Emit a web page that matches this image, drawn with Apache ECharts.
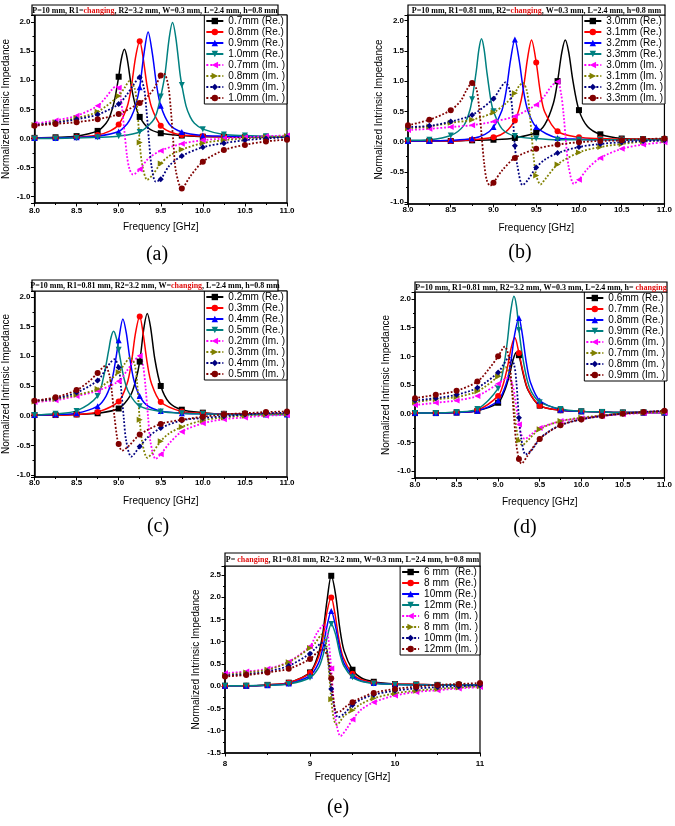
<!DOCTYPE html>
<html>
<head>
<meta charset="utf-8">
<script src="https://cdn.jsdelivr.net/npm/echarts@6/dist/echarts.min.js"></script>
<style>
  html, body { margin: 0; padding: 0; background: #fff; }
  #chart { width: 675px; height: 826px; }
</style>
</head>
<body>
<div id="chart"></div>
<script>
// ---- data: [frequency GHz, normalized impedance] ----

// (a) R1 changing
const aNames = ['0.7mm', '0.8mm', '0.9mm', '1.0mm'];
const aRe = [
  [[8,0.01],[8.25,0.02],[8.5,0.04],[8.75,0.13],[8.85,0.26],[8.9,0.40],[8.95,0.65],[9,1.06],[9.03,1.35],[9.067,1.53],[9.1,1.38],[9.15,0.90],[9.2,0.56],[9.25,0.37],[9.35,0.18],[9.5,0.09],[9.75,0.05],[10,0.03],[10.25,0.03],[10.5,0.02],[10.75,0.02],[11,0.02]],
  [[8,0.01],[8.25,0.01],[8.5,0.02],[8.75,0.06],[8.9,0.13],[9,0.24],[9.1,0.54],[9.15,0.88],[9.2,1.39],[9.25,1.67],[9.29,1.39],[9.34,0.88],[9.39,0.54],[9.5,0.22],[9.6,0.12],[9.75,0.06],[10,0.04],[10.25,0.03],[10.5,0.03],[10.75,0.03],[11,0.03]],
  [[8,0.01],[8.25,0.01],[8.5,0.02],[8.75,0.04],[9,0.12],[9.1,0.25],[9.15,0.37],[9.2,0.56],[9.25,0.88],[9.3,1.45],[9.35,1.83],[9.4,1.46],[9.45,0.92],[9.5,0.56],[9.6,0.25],[9.75,0.11],[10,0.05],[10.25,0.04],[10.5,0.03],[10.75,0.03],[11,0.03]],
  [[8,0.0],[8.25,0.0],[8.5,0.01],[8.75,0.02],[9,0.04],[9.25,0.11],[9.4,0.29],[9.45,0.43],[9.5,0.72],[9.55,1.10],[9.6,1.72],[9.64,1.99],[9.68,1.72],[9.73,1.10],[9.75,0.92],[9.8,0.56],[9.85,0.37],[9.9,0.26],[10,0.16],[10.25,0.07],[10.5,0.05],[10.75,0.04],[11,0.03]]
];
const aIm = [
  [[8,0.25],[8.25,0.31],[8.5,0.39],[8.75,0.56],[8.85,0.71],[8.92,0.84],[8.97,0.90],[9,0.87],[9.03,0.65],[9.067,0.14],[9.1,-0.31],[9.13,-0.53],[9.17,-0.62],[9.25,-0.53],[9.35,-0.35],[9.5,-0.21],[9.75,-0.09],[10,-0.03],[10.25,0.0],[10.5,0.02],[10.75,0.04],[11,0.05]],
  [[8,0.23],[8.25,0.28],[8.5,0.35],[8.75,0.46],[9,0.73],[9.07,0.87],[9.13,0.99],[9.19,0.86],[9.22,0.54],[9.25,-0.07],[9.28,-0.45],[9.34,-0.71],[9.4,-0.63],[9.5,-0.43],[9.6,-0.30],[9.75,-0.19],[10,-0.08],[10.25,-0.03],[10.5,0.0],[10.75,0.02],[11,0.04]],
  [[8,0.23],[8.25,0.27],[8.5,0.33],[8.75,0.41],[9,0.59],[9.1,0.76],[9.18,0.93],[9.25,1.05],[9.3,0.87],[9.33,0.49],[9.36,-0.03],[9.39,-0.47],[9.44,-0.74],[9.5,-0.70],[9.6,-0.47],[9.75,-0.30],[10,-0.15],[10.25,-0.08],[10.5,-0.03],[10.75,0.0],[11,0.02]],
  [[8,0.22],[8.25,0.25],[8.5,0.28],[8.75,0.33],[9,0.42],[9.25,0.61],[9.35,0.73],[9.43,0.88],[9.5,1.08],[9.54,1.11],[9.59,0.90],[9.62,0.49],[9.65,-0.07],[9.68,-0.56],[9.75,-0.86],[9.85,-0.65],[10,-0.40],[10.25,-0.20],[10.5,-0.11],[10.75,-0.05],[11,-0.02]]
];

// (b) R2 changing
const bNames = ['3.0mm', '3.1mm', '3.2mm', '3.3mm'];
const bRe = [
  [[8,0.01],[8.25,0.01],[8.5,0.01],[8.75,0.02],[9,0.03],[9.25,0.06],[9.5,0.15],[9.6,0.28],[9.7,0.63],[9.75,1.0],[9.8,1.48],[9.84,1.68],[9.88,1.48],[9.93,1.0],[10,0.52],[10.1,0.25],[10.25,0.12],[10.5,0.05],[10.75,0.04],[11,0.04]],
  [[8,0.01],[8.25,0.01],[8.5,0.01],[8.75,0.03],[9,0.07],[9.15,0.17],[9.25,0.35],[9.3,0.54],[9.35,0.88],[9.4,1.39],[9.445,1.68],[9.5,1.31],[9.55,0.80],[9.6,0.49],[9.75,0.17],[10,0.07],[10.25,0.05],[10.5,0.04],[10.75,0.04],[11,0.04]],
  [[8,0.01],[8.25,0.01],[8.5,0.02],[8.75,0.05],[8.9,0.12],[9,0.24],[9.1,0.52],[9.15,0.85],[9.2,1.35],[9.25,1.69],[9.3,1.35],[9.35,0.85],[9.4,0.52],[9.5,0.24],[9.75,0.06],[10,0.04],[10.25,0.03],[10.5,0.03],[10.75,0.03],[11,0.03]],
  [[8,0.02],[8.25,0.03],[8.5,0.10],[8.65,0.26],[8.72,0.50],[8.75,0.70],[8.8,1.18],[8.83,1.53],[8.86,1.70],[8.89,1.53],[8.92,1.18],[8.97,0.68],[9,0.50],[9.1,0.21],[9.25,0.09],[9.5,0.05],[9.75,0.03],[10,0.03],[10.25,0.03],[10.5,0.03],[10.75,0.03],[11,0.04]]
];
const bIm = [
  [[8,0.19],[8.25,0.21],[8.5,0.24],[8.75,0.27],[9,0.33],[9.25,0.42],[9.5,0.61],[9.6,0.76],[9.68,0.92],[9.75,0.99],[9.79,0.80],[9.82,0.45],[9.85,-0.04],[9.88,-0.42],[9.94,-0.70],[10,-0.63],[10.1,-0.45],[10.25,-0.27],[10.5,-0.12],[10.75,-0.05],[11,-0.01]],
  [[8,0.22],[8.25,0.25],[8.5,0.31],[8.75,0.36],[9,0.48],[9.15,0.64],[9.25,0.80],[9.3,0.92],[9.345,0.97],[9.39,0.84],[9.42,0.52],[9.445,0.13],[9.47,-0.26],[9.5,-0.56],[9.55,-0.71],[9.6,-0.63],[9.75,-0.38],[10,-0.18],[10.25,-0.09],[10.5,-0.04],[10.75,0.0],[11,0.02]],
  [[8,0.24],[8.25,0.26],[8.5,0.33],[8.75,0.44],[9,0.71],[9.07,0.86],[9.14,0.98],[9.19,0.85],[9.22,0.53],[9.25,-0.07],[9.28,-0.40],[9.34,-0.72],[9.4,-0.64],[9.5,-0.43],[9.6,-0.30],[9.75,-0.19],[10,-0.09],[10.25,-0.04],[10.5,-0.01],[10.75,0.01],[11,0.02]],
  [[8,0.27],[8.25,0.36],[8.5,0.52],[8.62,0.68],[8.68,0.84],[8.75,0.97],[8.8,0.87],[8.83,0.59],[8.86,0.12],[8.89,-0.35],[8.92,-0.63],[8.96,-0.73],[9,-0.68],[9.1,-0.48],[9.25,-0.27],[9.5,-0.12],[9.75,-0.05],[10,-0.01],[10.25,0.01],[10.5,0.02],[10.75,0.04],[11,0.05]]
];

// (c) W changing
const cNames = ['0.2mm', '0.3mm', '0.4mm', '0.5mm'];
const cRe = [
  [[8,0.01],[8.25,0.01],[8.5,0.02],[8.75,0.04],[9,0.12],[9.14,0.34],[9.2,0.58],[9.25,0.91],[9.3,1.48],[9.34,1.72],[9.38,1.48],[9.43,0.95],[9.5,0.50],[9.6,0.22],[9.75,0.10],[10,0.05],[10.25,0.03],[10.5,0.03],[10.75,0.03],[11,0.03]],
  [[8,0.01],[8.25,0.01],[8.5,0.02],[8.75,0.06],[9,0.24],[9.1,0.54],[9.15,0.88],[9.2,1.39],[9.25,1.67],[9.29,1.39],[9.34,0.88],[9.39,0.54],[9.5,0.23],[9.75,0.07],[10,0.04],[10.25,0.03],[10.5,0.03],[10.75,0.03],[11,0.03]],
  [[8,0.01],[8.25,0.02],[8.5,0.04],[8.75,0.16],[8.85,0.33],[8.92,0.60],[8.97,0.99],[9,1.27],[9.05,1.63],[9.09,1.40],[9.13,0.99],[9.18,0.60],[9.25,0.33],[9.35,0.16],[9.5,0.08],[9.75,0.04],[10,0.03],[10.25,0.02],[10.5,0.02],[10.75,0.02],[11,0.02]],
  [[8,0.01],[8.25,0.03],[8.5,0.08],[8.75,0.33],[8.82,0.65],[8.88,1.09],[8.91,1.32],[8.94,1.42],[8.97,1.32],[9,1.11],[9.06,0.65],[9.12,0.39],[9.25,0.16],[9.5,0.07],[9.75,0.04],[10,0.03],[10.25,0.02],[10.5,0.02],[10.75,0.02],[11,0.02]]
];
const cIm = [
  [[8,0.23],[8.25,0.26],[8.5,0.33],[8.75,0.42],[9,0.58],[9.1,0.76],[9.17,0.90],[9.25,1.01],[9.29,0.84],[9.32,0.47],[9.35,-0.03],[9.38,-0.46],[9.44,-0.73],[9.5,-0.65],[9.6,-0.47],[9.75,-0.27],[10,-0.13],[10.25,-0.06],[10.5,-0.03],[10.75,0.0],[11,0.01]],
  [[8,0.24],[8.25,0.28],[8.5,0.35],[8.75,0.45],[9,0.73],[9.07,0.87],[9.14,0.98],[9.19,0.86],[9.22,0.54],[9.25,-0.07],[9.28,-0.45],[9.34,-0.71],[9.4,-0.63],[9.5,-0.43],[9.6,-0.30],[9.75,-0.19],[10,-0.08],[10.25,-0.03],[10.5,0.0],[10.75,0.02],[11,0.03]],
  [[8,0.25],[8.25,0.29],[8.5,0.39],[8.75,0.59],[8.85,0.79],[8.9,0.89],[8.95,0.95],[9,0.81],[9.03,0.44],[9.06,-0.03],[9.09,-0.43],[9.15,-0.69],[9.25,-0.52],[9.35,-0.36],[9.5,-0.21],[9.75,-0.08],[10,-0.04],[10.25,-0.01],[10.5,0.02],[10.75,0.04],[11,0.05]],
  [[8,0.25],[8.25,0.31],[8.5,0.43],[8.65,0.58],[8.75,0.72],[8.84,0.84],[8.89,0.68],[8.92,0.39],[8.95,-0.02],[8.98,-0.36],[9,-0.48],[9.04,-0.59],[9.12,-0.51],[9.25,-0.32],[9.5,-0.14],[9.75,-0.07],[10,-0.02],[10.25,0.02],[10.5,0.04],[10.75,0.06],[11,0.07]]
];

// (d) h changing
const dNames = ['0.6mm', '0.7mm', '0.8mm', '0.9mm'];
const dRe = [
  [[8,0.01],[8.25,0.01],[8.5,0.02],[8.75,0.05],[9,0.19],[9.08,0.41],[9.13,0.64],[9.18,0.94],[9.22,1.07],[9.25,1.02],[9.3,0.70],[9.36,0.41],[9.5,0.14],[9.75,0.06],[10,0.04],[10.25,0.03],[10.5,0.02],[10.75,0.02],[11,0.02]],
  [[8,0.01],[8.25,0.01],[8.5,0.02],[8.75,0.06],[9,0.31],[9.06,0.51],[9.11,0.80],[9.16,1.17],[9.2,1.33],[9.25,1.06],[9.3,0.73],[9.36,0.42],[9.5,0.14],[9.75,0.06],[10,0.04],[10.25,0.03],[10.5,0.02],[10.75,0.02],[11,0.02]],
  [[8,0.01],[8.25,0.01],[8.5,0.02],[8.75,0.05],[9,0.23],[9.1,0.54],[9.15,0.88],[9.2,1.39],[9.25,1.67],[9.29,1.39],[9.34,0.88],[9.39,0.54],[9.5,0.23],[9.75,0.07],[10,0.04],[10.25,0.03],[10.5,0.02],[10.75,0.02],[11,0.02]],
  [[8,0.01],[8.25,0.01],[8.5,0.03],[8.75,0.08],[9,0.44],[9.06,0.76],[9.11,1.25],[9.15,1.77],[9.19,2.05],[9.22,1.88],[9.25,1.46],[9.29,1.03],[9.35,0.58],[9.4,0.38],[9.5,0.20],[9.75,0.08],[10,0.04],[10.25,0.03],[10.5,0.02],[10.75,0.02],[11,0.02]]
];
const dIm = [
  [[8,0.15],[8.25,0.19],[8.5,0.23],[8.75,0.31],[9,0.52],[9.06,0.59],[9.12,0.63],[9.17,0.52],[9.2,0.30],[9.23,0.0],[9.25,-0.19],[9.28,-0.37],[9.32,-0.44],[9.4,-0.36],[9.5,-0.25],[9.75,-0.13],[10,-0.08],[10.25,-0.04],[10.5,-0.01],[10.75,0.01],[11,0.02]],
  [[8,0.20],[8.25,0.25],[8.5,0.29],[8.75,0.39],[9,0.65],[9.09,0.81],[9.14,0.67],[9.17,0.39],[9.2,0.0],[9.22,-0.26],[9.25,-0.47],[9.29,-0.55],[9.36,-0.46],[9.5,-0.27],[9.75,-0.13],[10,-0.07],[10.25,-0.03],[10.5,0.0],[10.75,0.02],[11,0.03]],
  [[8,0.23],[8.25,0.27],[8.5,0.33],[8.75,0.45],[9,0.72],[9.07,0.87],[9.13,0.98],[9.19,0.86],[9.22,0.54],[9.25,-0.07],[9.28,-0.45],[9.33,-0.71],[9.4,-0.64],[9.5,-0.44],[9.6,-0.32],[9.75,-0.20],[10,-0.10],[10.25,-0.04],[10.5,0.0],[10.75,0.03],[11,0.05]],
  [[8,0.27],[8.25,0.33],[8.5,0.40],[8.75,0.56],[8.9,0.80],[9,1.0],[9.08,1.17],[9.13,0.97],[9.16,0.54],[9.19,-0.05],[9.22,-0.55],[9.25,-0.79],[9.28,-0.87],[9.35,-0.74],[9.5,-0.44],[9.75,-0.20],[10,-0.10],[10.25,-0.04],[10.5,0.0],[10.75,0.03],[11,0.05]]
];

// (e) P changing
const eNames = ['6 mm ', '8 mm ', '10mm', '12mm'];
const eRe = [
  [[8,0.01],[8.25,0.01],[8.5,0.03],[8.75,0.08],[9,0.31],[9.1,0.73],[9.15,1.18],[9.2,1.92],[9.25,2.48],[9.3,2.07],[9.35,1.31],[9.4,0.80],[9.5,0.37],[9.6,0.19],[9.75,0.10],[10,0.05],[10.25,0.04],[10.5,0.03],[10.75,0.03],[11,0.03]],
  [[8,0.01],[8.25,0.01],[8.5,0.03],[8.75,0.08],[9,0.30],[9.1,0.65],[9.15,1.06],[9.2,1.67],[9.25,1.99],[9.29,1.67],[9.34,1.06],[9.39,0.65],[9.5,0.28],[9.6,0.15],[9.75,0.08],[10,0.05],[10.25,0.04],[10.5,0.03],[10.75,0.03],[11,0.03]],
  [[8,0.01],[8.25,0.01],[8.5,0.02],[8.75,0.06],[9,0.24],[9.1,0.52],[9.15,0.85],[9.2,1.35],[9.25,1.69],[9.3,1.35],[9.35,0.85],[9.4,0.52],[9.5,0.24],[9.6,0.12],[9.75,0.07],[10,0.04],[10.25,0.03],[10.5,0.03],[10.75,0.03],[11,0.03]],
  [[8,0.01],[8.25,0.01],[8.5,0.02],[8.75,0.05],[9,0.19],[9.1,0.41],[9.15,0.67],[9.2,1.08],[9.25,1.40],[9.3,1.17],[9.35,0.74],[9.4,0.45],[9.5,0.20],[9.6,0.11],[9.75,0.06],[10,0.04],[10.25,0.03],[10.5,0.03],[10.75,0.03],[11,0.03]]
];
const eIm = [
  [[8,0.29],[8.25,0.33],[8.5,0.39],[8.75,0.55],[9,0.90],[9.08,1.19],[9.16,1.37],[9.21,1.13],[9.24,0.61],[9.25,0.40],[9.27,-0.12],[9.3,-0.73],[9.36,-1.12],[9.43,-0.96],[9.5,-0.75],[9.6,-0.53],[9.75,-0.36],[10,-0.21],[10.25,-0.13],[10.5,-0.09],[10.75,-0.05],[11,-0.02]],
  [[8,0.25],[8.25,0.31],[8.5,0.37],[8.75,0.54],[9,0.86],[9.06,0.97],[9.145,1.17],[9.19,0.95],[9.215,0.51],[9.25,-0.29],[9.28,-0.74],[9.315,-0.87],[9.4,-0.67],[9.5,-0.54],[9.6,-0.40],[9.75,-0.27],[10,-0.16],[10.25,-0.10],[10.5,-0.06],[10.75,-0.03],[11,0.0]],
  [[8,0.24],[8.25,0.27],[8.5,0.33],[8.75,0.46],[9,0.73],[9.07,0.86],[9.14,0.97],[9.19,0.85],[9.22,0.53],[9.25,-0.06],[9.28,-0.40],[9.33,-0.70],[9.4,-0.62],[9.5,-0.42],[9.6,-0.30],[9.75,-0.19],[10,-0.10],[10.25,-0.05],[10.5,-0.02],[10.75,0.0],[11,0.02]],
  [[8,0.22],[8.25,0.25],[8.5,0.31],[8.75,0.39],[9,0.61],[9.08,0.75],[9.15,0.83],[9.2,0.70],[9.23,0.48],[9.25,0.18],[9.27,-0.20],[9.31,-0.58],[9.36,-0.56],[9.42,-0.46],[9.5,-0.36],[9.6,-0.26],[9.75,-0.15],[10,-0.06],[10.25,-0.01],[10.5,0.03],[10.75,0.05],[11,0.07]]
];

// title strings: [before, red word, after]
const aTitle = ['P=10 mm, R1=', 'changing', ', R2=3.2 mm, W=0.3 mm, L=2.4 mm, h=0.8 mm'];
const bTitle = ['P=10 mm, R1=0.81 mm, R2=', 'changing', ', W=0.3 mm, L=2.4 mm, h=0.8 mm'];
const cTitle = ['P=10 mm, R1=0.81 mm, R2=3.2 mm, W=', 'changing', ', L=2.4 mm, h=0.8 mm'];
const dTitle = ['P=10 mm, R1=0.81 mm, R2=3.2 mm, W=0.3 mm, L=2.4 mm, h= ', 'changing', ''];
const eTitle = ['P= ', 'changing', ', R1=0.81 mm, R2=3.2 mm, W=0.3 mm, L=2.4 mm, h=0.8 mm'];

// ---- styling / layout ----
const colors = ['#000000', '#ff0000', '#0000ff', '#008080', '#ff00ff', '#808000', '#000080', '#800000'];
const symbols = ['rect', 'circle', 'triangle', 'path://M0,0L10,0L5,10Z',
                 'path://M10,0L10,10L0,5Z', 'path://M0,0L10,5L0,10Z', 'diamond', 'circle'];
const SANS = 'Liberation Sans, Arial, sans-serif';
const SERIF = 'Liberation Serif, Times New Roman, serif';

const panels = [
  { key: 'a', names: aNames, re: aRe, im: aIm, title: aTitle, grid: [34, 15, 253, 188], y: [-1.108, 2.12],
    tbox: [32, 5, 246, 10], legendRight: 388, cap: ['(a)', 157, 255], xStep: 0.5, xMargin: 4 },
  { key: 'b', names: bNames, re: bRe, im: bIm, title: bTitle, grid: [408, 15, 257, 189], y: [-1.033, 2.094],
    tbox: [408, 5, 257, 10], legendRight: 10, cap: ['(b)', 520, 253], xStep: 0.5, xMargin: 2 },
  { key: 'c', names: cNames, re: cRe, im: cIm, title: cTitle, grid: [34, 291, 253, 186], y: [-1.034, 2.1],
    tbox: [32, 280, 246, 11], legendRight: 388, cap: ['(c)', 158, 527], xStep: 0.5, xMargin: 2 },
  { key: 'd', names: dNames, re: dRe, im: dIm, title: dTitle, grid: [415, 292, 252, 186], y: [-1.122, 2.122],
    tbox: [415, 282, 252, 10], legendRight: 8, cap: ['(d)', 525, 528], xStep: 0.5, xMargin: 3 },
  { key: 'e', names: eNames, re: eRe, im: eIm, title: eTitle, grid: [225, 566, 255, 187], y: [-1.5, 2.70],
    tbox: [225, 553, 255, 13], legendRight: 195, cap: ['(e)', 338, 808], xStep: 1, xMargin: 7 }
];

// markers only at every 0.25 GHz
function isMark(x) { return Math.abs(x * 4 - Math.round(x * 4)) < 1e-6; }
function toData(pts) {
  return pts.map(p => isMark(p[0]) ? p : { value: p, symbol: 'none' });
}
function halfStep(v) { return Math.abs(v * 2 - Math.round(v * 2)) < 1e-6; }

const option = {
  animation: false,
  backgroundColor: '#fff',
  grid: [], xAxis: [], yAxis: [], series: [], legend: [], graphic: []
};

panels.forEach((p, i) => {
  const g = p.grid;
  option.grid.push({ left: g[0], top: g[1], width: g[2], height: g[3], show: true,
    borderColor: '#000', borderWidth: 1.2 });

  option.xAxis.push({
    type: 'value', gridIndex: i, min: 8, max: 11, interval: p.xStep,
    name: 'Frequency [GHz]', nameLocation: 'middle', nameGap: 19.5,
    nameTextStyle: { fontSize: 10, fontFamily: SANS, color: '#000' },
    axisLine: { show: true, onZero: false, lineStyle: { color: '#000', width: 1.5 } },
    axisTick: { show: true, inside: false, length: 3.5, lineStyle: { color: '#000' } },
    minorTick: { show: true, splitNumber: 2, length: 2, lineStyle: { color: '#000' } },
    splitLine: { show: false },
    axisLabel: { fontSize: 8, fontWeight: 'bold', margin: p.xMargin, color: '#000', fontFamily: SANS,
      formatter: v => p.xStep === 1 ? String(Math.round(v)) : v.toFixed(1) }
  });

  option.yAxis.push({
    type: 'value', gridIndex: i, min: p.y[0], max: p.y[1], minInterval: 0.5, maxInterval: 0.5,
    name: 'Normalized Intrinsic Impedance', nameLocation: 'middle', nameGap: 23.5,
    nameTextStyle: { fontSize: 10, fontFamily: SANS, color: '#000' },
    axisLine: { show: true, onZero: false, lineStyle: { color: '#000', width: 1.5 } },
    axisTick: { show: true, inside: false, length: 3.5, lineStyle: { color: '#000' } },
    minorTick: { show: true, splitNumber: 2, length: 2, lineStyle: { color: '#000' } },
    splitLine: { show: false },
    axisLabel: { fontSize: 8, fontWeight: 'bold', margin: 4, color: '#000', fontFamily: SANS,
      formatter: v => halfStep(v) ? v.toFixed(1) : '' }
  });

  const legendNames = [];
  [['re', ' (Re.)', 'solid'], ['im', ' (Im. )', 'dotted']].forEach((kind, j) => {
    p[kind[0]].forEach((pts, k) => {
      const idx = j * 4 + k;
      const name = p.key + '|' + p.names[k] + kind[1];
      legendNames.push(name);
      option.series.push({
        type: 'line', name: name, xAxisIndex: i, yAxisIndex: i,
        data: toData(pts), smooth: 0.3, showAllSymbol: true,
        symbol: symbols[idx], symbolSize: 6,
        lineStyle: { color: colors[idx], width: j ? 1.8 : 1.5, type: kind[2] },
        itemStyle: { color: colors[idx] },
        emphasis: { disabled: true }, z: 2
      });
    });
  });

  option.legend.push({
    orient: 'vertical', right: p.legendRight, top: g[1],
    data: legendNames, formatter: n => n.split('|')[1],
    selectedMode: false,
    itemWidth: 17, itemHeight: 8, itemGap: 1,
    padding: [1, 2, 1, 1],
    backgroundColor: '#fff', borderColor: '#000', borderWidth: 1,
    textStyle: { fontSize: 10, fontFamily: SANS, color: '#000' }
  });

  const t = p.tbox;
  option.graphic.push({
    type: 'rect', shape: { x: t[0], y: t[1], width: t[2], height: t[3] },
    style: { fill: '#fff', stroke: '#000', lineWidth: 1.2 }, z: 10
  });
  option.graphic.push({
    type: 'text', x: t[0] + t[2] / 2, y: t[1] + t[3] / 2 + 0.5, z: 11,
    style: {
      text: '{k|' + p.title[0] + '}{r|' + p.title[1] + '}' + (p.title[2] ? '{k|' + p.title[2] + '}' : ''),
      align: 'center', verticalAlign: 'middle',
      rich: {
        k: { fontFamily: SERIF, fontWeight: 'bold', fontSize: 8, fill: '#000' },
        r: { fontFamily: SERIF, fontWeight: 'bold', fontSize: 8, fill: '#e01010' }
      }
    }
  });
  option.graphic.push({
    type: 'text', x: p.cap[1], y: p.cap[2], z: 11,
    style: { text: p.cap[0], fontFamily: SERIF, fontSize: 20, fill: '#000',
      align: 'center', verticalAlign: 'middle' }
  });
});

const chart = echarts.init(document.getElementById('chart'));
chart.setOption(option);
</script>
</body>
</html>
